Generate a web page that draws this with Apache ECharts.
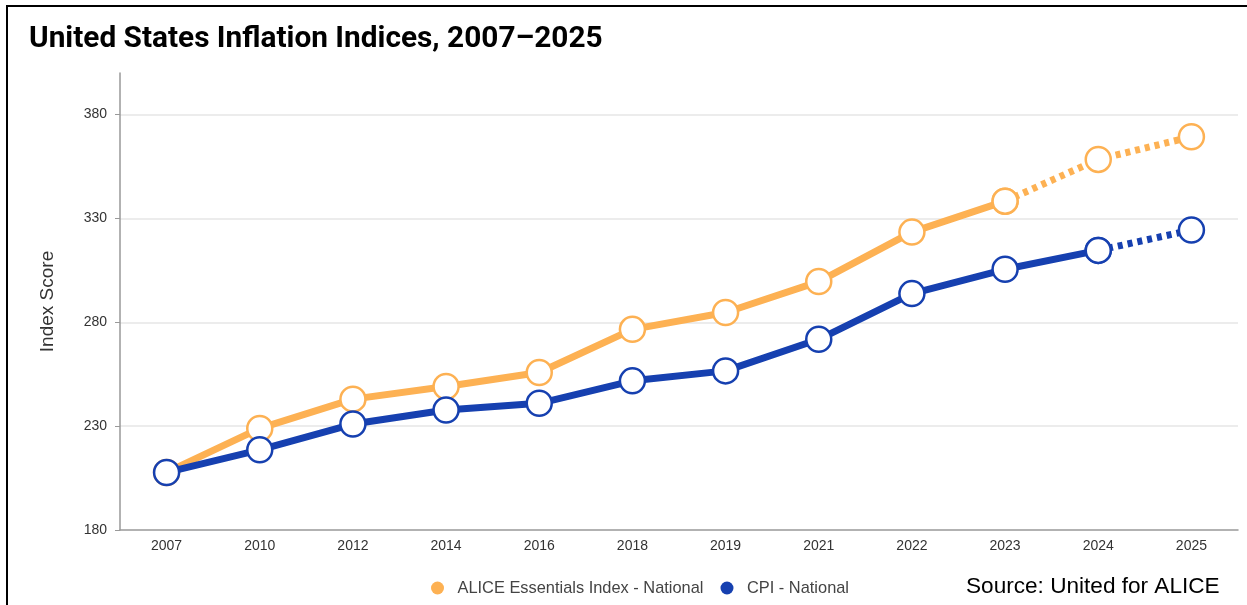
<!DOCTYPE html>
<html>
<head>
<meta charset="utf-8">
<script src="https://cdn.jsdelivr.net/npm/echarts@6/dist/echarts.min.js"></script>
<style>
  html, body { margin: 0; padding: 0; background: #fff; }
  #chart { width: 1247px; height: 605px; }
</style>
</head>
<body>
<div id="chart"></div>
<script>
// 数据
var years = ['2007', '2010', '2012', '2014', '2016', '2018', '2019', '2021', '2022', '2023', '2024', '2025'];
var aliceIndex = [207.7, 228.9, 243.0, 249.1, 255.8, 276.6, 284.7, 299.6, 323.4, 338.3, 358.4, 369.3];
var cpiIndex = [207.7, 218.6, 231.0, 237.8, 241.0, 251.8, 256.6, 271.8, 293.8, 305.5, 314.6, 324.4];
var yTicks = [180, 230, 280, 330, 380];
// 从哪一年开始画虚线（预测段）
var aliceDashFrom = '2023';
var cpiDashFrom = '2024';

var ALICE_NAME = 'ALICE Essentials Index - National';
var CPI_NAME = 'CPI - National';
var ORANGE = '#FDB153';
var BLUE = '#1640B0';
var FONT = '"Liberation Sans", Arial, Helvetica, sans-serif';

function splitAt(arr, fromYear, solid) {
  var k = years.indexOf(fromYear);
  return arr.map(function (v, i) {
    if (solid) { return i <= k ? v : null; }
    return i >= k ? v : null;
  });
}

function lineSeries(name, color, arr, dashed, z) {
  return {
    name: name,
    type: 'line',
    data: arr,
    z: z,
    connectNulls: false,
    symbol: 'circle',
    symbolSize: 25,
    showSymbol: true,
    animation: false,
    lineStyle: { width: 7, color: color, type: dashed ? [5, 5] : 'solid', cap: 'butt' },
    itemStyle: { color: '#fff', borderColor: color, borderWidth: 2.5 },
    emphasis: { disabled: true }
  };
}

var chart = echarts.init(document.getElementById('chart'), null, { renderer: 'canvas' });

chart.setOption({
  backgroundColor: '#fff',
  textStyle: { fontFamily: FONT },
  title: {
    text: 'United States Inflation Indices, 2007\u20132025',
    left: 24,
    top: 20,
    textStyle: { fontFamily: 'Roboto', fontWeight: 700, fontSize: 29.8, color: '#000' }
  },
  grid: { left: 120, right: 9, top: 73, bottom: 75 },
  legend: {
    left: 426,
    top: 575,
    itemWidth: 30,
    itemHeight: 13,
    itemGap: 17,
    selectedMode: false,
    textStyle: { fontFamily: FONT, fontSize: 16.4, color: '#444' },
    data: [
      { name: ALICE_NAME, icon: 'circle', itemStyle: { color: ORANGE, borderWidth: 0 } },
      { name: CPI_NAME, icon: 'circle', itemStyle: { color: BLUE, borderWidth: 0 } }
    ]
  },
  xAxis: {
    type: 'category',
    data: years,
    boundaryGap: true,
    axisLine: { lineStyle: { color: '#999', width: 1.5 } },
    axisTick: { show: false },
    axisLabel: { color: '#333', fontSize: 14, margin: 9, fontFamily: FONT }
  },
  yAxis: {
    type: 'value',
    min: yTicks[0],
    max: 400,
    interval: yTicks[1] - yTicks[0],
    name: 'Index Score',
    nameLocation: 'middle',
    nameGap: 63,
    nameTextStyle: { fontSize: 19, color: '#333', fontFamily: FONT },
    axisLine: { show: true, lineStyle: { color: '#999', width: 1.5 } },
    axisTick: { show: true, length: 5, lineStyle: { color: '#999' } },
    axisLabel: { color: '#333', fontSize: 14, margin: 13, showMaxLabel: false, fontFamily: FONT },
    splitLine: { show: true, showMinLine: false, showMaxLine: false, lineStyle: { color: '#e6e6e6', width: 1.5 } }
  },
  series: [
    lineSeries(ALICE_NAME, ORANGE, splitAt(aliceIndex, aliceDashFrom, true), false, 2),
    lineSeries(ALICE_NAME, ORANGE, splitAt(aliceIndex, aliceDashFrom, false), true, 2),
    lineSeries(CPI_NAME, BLUE, splitAt(cpiIndex, cpiDashFrom, true), false, 3),
    lineSeries(CPI_NAME, BLUE, splitAt(cpiIndex, cpiDashFrom, false), true, 3)
  ],
  graphic: [
    {
      type: 'rect',
      shape: { x: 7, y: 6, width: 1270, height: 640 },
      style: { fill: null, stroke: '#000', lineWidth: 2 },
      silent: true
    },
    {
      type: 'text',
      left: 966,
      top: 575,
      style: { text: 'Source: United for ALICE', font: '22.6px ' + FONT, fill: '#000' },
      silent: true
    }
  ]
});
</script>
</body>
</html>
